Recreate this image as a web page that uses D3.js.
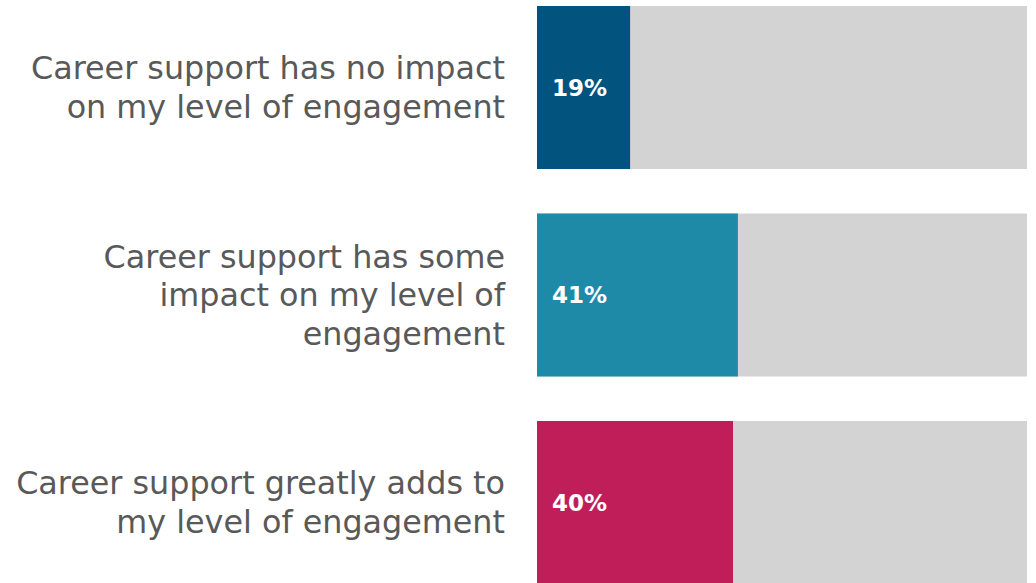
<!DOCTYPE html>
<html>
<head>
<meta charset="utf-8">
<script src="https://cdn.jsdelivr.net/npm/d3@7"></script>
<style>
  html, body { margin: 0; padding: 0; background: #fff; }
  svg { display: block; }
</style>
</head>
<body>
<svg id="chart" width="1036" height="583"></svg>
<script>
// Survey responses: share of respondents per statement
const categories = [
  "Career support has no impact on my level of engagement",
  "Career support has some impact on my level of engagement",
  "Career support greatly adds to my level of engagement"
];
const labelLines = [
  ["Career support has no impact", "on my level of engagement"],
  ["Career support has some", "impact on my level of", "engagement"],
  ["Career support greatly adds to", "my level of engagement"]
];
const values = [19, 41, 40];
const valueLabels = ["19%", "41%", "40%"];
const barColors = ["#02547f", "#1e8aa8", "#c01e58"];

const svg = d3.select("#chart");

const x = d3.scaleLinear().domain([0, 100]).range([537, 1027]);
const y = d3.scaleBand().domain(categories).range([6, 584]).paddingInner(0.2145);

const rows = svg.selectAll("g.row")
  .data(categories)
  .join("g")
  .attr("class", "row");

// grey track for the full 100%
rows.append("rect")
  .attr("x", x(0))
  .attr("y", d => y(d))
  .attr("width", x(100) - x(0))
  .attr("height", y.bandwidth())
  .attr("fill", "#d3d3d3");

// coloured share
rows.append("rect")
  .attr("x", x(0))
  .attr("y", d => y(d))
  .attr("width", (d, i) => x(values[i]) - x(0))
  .attr("height", y.bandwidth())
  .attr("fill", (d, i) => barColors[i]);

// value labels inside the bars
rows.append("text")
  .attr("x", x(0) + 15)
  .attr("y", d => y(d) + y.bandwidth() / 2)
  .attr("dy", "0.35em")
  .attr("fill", "#ffffff")
  .attr("font-family", "'DejaVu Sans', sans-serif")
  .attr("font-weight", "bold")
  .attr("font-size", 23)
  .text((d, i) => valueLabels[i]);

// category labels, right aligned to the left of the bars
const lineH = 38.5;
rows.append("text")
  .attr("text-anchor", "end")
  .attr("fill", "#595959")
  .attr("font-family", "'DejaVu Sans', sans-serif")
  .attr("font-size", 31.8)
  .each(function(d, i) {
    const lines = labelLines[i];
    const cy = y(d) + y.bandwidth() / 2;
    const top = cy - (lines.length - 1) * lineH / 2;
    d3.select(this).selectAll("tspan")
      .data(lines)
      .join("tspan")
      .attr("x", 505)
      .attr("y", (l, k) => top + k * lineH)
      .attr("dy", "0.35em")
      .text(l => l);
  });
</script>
</body>
</html>
